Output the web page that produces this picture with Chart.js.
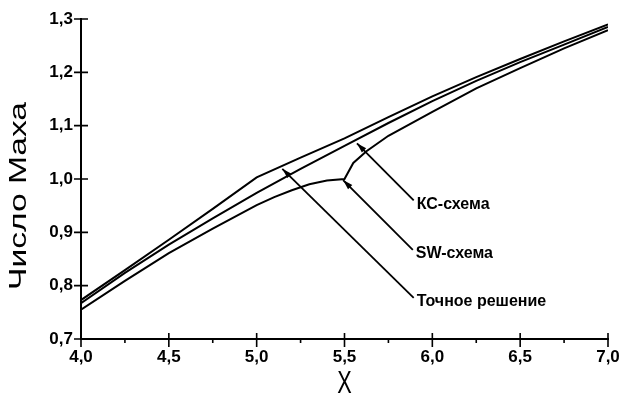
<!DOCTYPE html>
<html>
<head>
<meta charset="utf-8">
<script src="https://cdn.jsdelivr.net/npm/chart.js@4.4.0/dist/chart.umd.min.js"></script>
<style>
  html, body { margin: 0; padding: 0; background: #fff; }
  #wrap { width: 620px; height: 398px; }
</style>
</head>
<body>
<div id="wrap"><canvas id="chart" width="620" height="398"></canvas></div>
<script>
// точное решение (верхняя кривая, излом в горле x=5)
const exactX = [4.0, 4.25, 4.5, 4.75, 5.0, 5.25, 5.5, 5.75, 6.0, 6.25, 6.5, 6.75, 7.0];
const exactY = [0.773, 0.829, 0.886, 0.944, 1.003, 1.040, 1.076, 1.116, 1.155, 1.191, 1.225, 1.258, 1.290];

// КС-схема
const kcX = [4.0, 4.25, 4.5, 4.75, 5.0, 5.25, 5.5, 5.75, 6.0, 6.25, 6.5, 6.75, 7.0];
const kcY = [0.767, 0.824, 0.877, 0.926, 0.974, 1.019, 1.062, 1.105, 1.146, 1.184, 1.219, 1.252, 1.285];

// SW-схема (излом в звуковой точке)
const swX = [4.0, 4.25, 4.5, 4.75, 5.0, 5.1, 5.2, 5.3, 5.4, 5.5, 5.55, 5.625, 5.75, 6.0, 6.25, 6.5, 6.75, 7.0];
const swY = [0.755, 0.809, 0.861, 0.907, 0.951, 0.966, 0.979, 0.990, 0.997, 1.0, 1.030, 1.052, 1.081, 1.126, 1.170, 1.208, 1.245, 1.279];

const xMajor = [4.0, 4.5, 5.0, 5.5, 6.0, 6.5, 7.0];
const xMinor = [4.25, 4.75, 5.25, 5.75, 6.25, 6.75];
const yMajor = [0.7, 0.8, 0.9, 1.0, 1.1, 1.2, 1.3];

// подписи со стрелками: текст, острие (x, y), хвост (x, y)
const noteLabels = ["КС-схема", "SW-схема", "Точное решение"];
const noteTips = [[5.571, 1.067], [5.492, 0.998], [5.146, 1.019]];
const noteTails = [[5.894, 0.960], [5.889, 0.867], [5.894, 0.777]];

const xTitle = "X";
const yTitle = "Число Маха";

const toPts = (xs, ys) => xs.map((x, i) => ({ x: x, y: ys[i] }));
const fmt = v => Number(v).toFixed(1).replace(".", ",");

const lineStyle = {
  borderColor: "#000",
  borderWidth: 2,
  pointRadius: 0,
  tension: 0,
  fill: false,
};

const extras = {
  id: "extras",
  afterDraw(chart) {
    const ctx = chart.ctx;
    const xs = chart.scales.x;
    const ys = chart.scales.y;
    const area = chart.chartArea;
    ctx.save();
    ctx.strokeStyle = "#000";
    ctx.fillStyle = "#000";
    ctx.lineWidth = 1.6;

    // засечки, пересекающие ось
    ctx.beginPath();
    xMajor.forEach(v => {
      const px = xs.getPixelForValue(v);
      ctx.moveTo(px, area.bottom - 6);
      ctx.lineTo(px, area.bottom + 8);
    });
    xMinor.forEach(v => {
      const px = xs.getPixelForValue(v);
      ctx.moveTo(px, area.bottom);
      ctx.lineTo(px, area.bottom + 4);
    });
    yMajor.forEach(v => {
      const py = ys.getPixelForValue(v);
      ctx.moveTo(area.left - 7, py);
      ctx.lineTo(area.left + 7, py);
    });
    ctx.stroke();

    // стрелки и подписи
    ctx.lineWidth = 1.8;
    ctx.font = "bold 16px 'Liberation Sans', Arial, sans-serif";
    ctx.textBaseline = "middle";
    ctx.textAlign = "left";
    noteLabels.forEach((txt, i) => {
      const tx = xs.getPixelForValue(noteTips[i][0]);
      const ty = ys.getPixelForValue(noteTips[i][1]);
      const sx = xs.getPixelForValue(noteTails[i][0]);
      const sy = ys.getPixelForValue(noteTails[i][1]);
      ctx.beginPath();
      ctx.moveTo(sx, sy);
      ctx.lineTo(tx, ty);
      ctx.stroke();
      const a = Math.atan2(ty - sy, tx - sx);
      const len = 10, w = 3;
      ctx.beginPath();
      ctx.moveTo(tx, ty);
      ctx.lineTo(tx - len * Math.cos(a) + w * Math.sin(a), ty - len * Math.sin(a) - w * Math.cos(a));
      ctx.lineTo(tx - len * Math.cos(a) - w * Math.sin(a), ty - len * Math.sin(a) + w * Math.cos(a));
      ctx.closePath();
      ctx.fill();
      ctx.fillText(txt, sx + 3, sy + 4);
    });

    // заголовки осей (узкий вытянутый шрифт, как в оригинале)
    ctx.font = "24px 'Liberation Sans', Arial, sans-serif";
    ctx.textAlign = "center";
    ctx.save();
    ctx.translate(19, (area.top + area.bottom) / 2 + 17);
    ctx.rotate(-Math.PI / 2);
    const k = 188 / ctx.measureText(yTitle).width;
    ctx.scale(k, 1);
    ctx.fillText(yTitle, 0, 0);
    ctx.restore();

    ctx.save();
    ctx.translate((area.left + area.right) / 2, 384);
    ctx.scale(0.7, 1);
    ctx.font = "31px 'Liberation Sans', Arial, sans-serif";
    ctx.fillText(xTitle, 0, 0);
    ctx.restore();

    ctx.restore();
  },
};

new Chart(document.getElementById("chart"), {
  type: "line",
  data: {
    datasets: [
      { label: "Точное решение", data: toPts(exactX, exactY), ...lineStyle },
      { label: "КС-схема", data: toPts(kcX, kcY), ...lineStyle },
      { label: "SW-схема", data: toPts(swX, swY), ...lineStyle },
    ],
  },
  options: {
    responsive: false,
    animation: false,
    layout: { padding: { left: 0, right: 12, top: 19, bottom: 0 } },
    plugins: { legend: { display: false }, tooltip: { enabled: false } },
    scales: {
      x: {
        type: "linear",
        min: 4,
        max: 7,
        afterFit: s => { s.height = 59; s.paddingLeft = 0; s.paddingRight = 0; },
        afterBuildTicks: s => { s.ticks = xMajor.map(v => ({ value: v })); },
        grid: { display: false, drawTicks: false },
        border: { display: true, color: "#000", width: 2 },
        ticks: {
          padding: 8,
          color: "#000",
          maxRotation: 0,
          font: { family: "'Liberation Sans', Arial, sans-serif", size: 17, weight: "bold" },
          callback: v => fmt(v),
        },
      },
      y: {
        min: 0.7,
        max: 1.3,
        afterFit: s => { s.width = 81; s.paddingTop = 0; s.paddingBottom = 0; },
        afterBuildTicks: s => { s.ticks = yMajor.map(v => ({ value: v })); },
        grid: { display: false, drawTicks: false },
        border: { display: true, color: "#000", width: 2 },
        ticks: {
          padding: 8,
          color: "#000",
          font: { family: "'Liberation Sans', Arial, sans-serif", size: 17, weight: "bold" },
          callback: v => fmt(v),
        },
      },
    },
  },
  plugins: [extras],
});
</script>
</body>
</html>
